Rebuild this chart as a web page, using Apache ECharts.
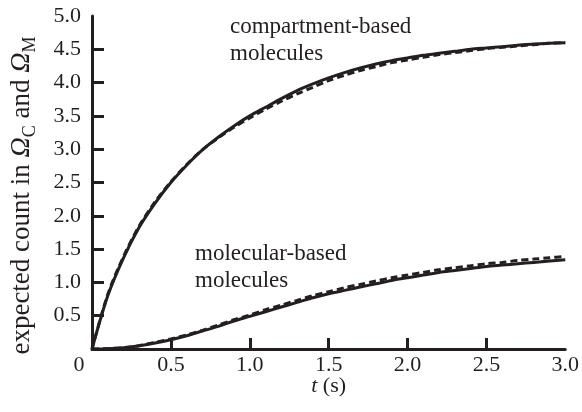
<!DOCTYPE html>
<html>
<head>
<meta charset="utf-8">
<script src="https://cdn.jsdelivr.net/npm/echarts@6/dist/echarts.min.js"></script>
<style>
  html, body { margin: 0; padding: 0; background: #fff; }
  #chart { width: 582px; height: 412px; }
</style>
</head>
<body>
<div id="chart"></div>
<script>
// time grid (s)
var times = [0, 0.1, 0.2, 0.3, 0.4, 0.5, 0.6, 0.7, 0.8, 0.9, 1.0,
  1.1, 1.2, 1.3, 1.4, 1.5, 1.6, 1.7, 1.8, 1.9, 2.0,
  2.1, 2.2, 2.3, 2.4, 2.5, 2.6, 2.7, 2.8, 2.9, 3.0];

// compartment-based molecules, solid and dashed
var compSolid = [0, 0.80, 1.37, 1.83, 2.19, 2.50, 2.76, 2.99, 3.18, 3.35, 3.50,
  3.63, 3.76, 3.88, 3.98, 4.07, 4.15, 4.22, 4.28, 4.33, 4.37,
  4.41, 4.44, 4.47, 4.50, 4.52, 4.54, 4.56, 4.58, 4.59, 4.60];
var compDashed = [0, 0.82, 1.39, 1.85, 2.21, 2.51, 2.77, 2.99, 3.17, 3.33, 3.47,
  3.60, 3.72, 3.83, 3.93, 4.03, 4.11, 4.18, 4.24, 4.30, 4.34,
  4.38, 4.42, 4.45, 4.48, 4.51, 4.53, 4.55, 4.57, 4.59, 4.60];

// molecular-based molecules, solid and dashed
var molSolid = [0, 0.005, 0.02, 0.05, 0.09, 0.14, 0.20, 0.27, 0.34, 0.42, 0.49,
  0.56, 0.63, 0.70, 0.77, 0.83, 0.88, 0.93, 0.98, 1.03, 1.07,
  1.11, 1.15, 1.18, 1.21, 1.24, 1.26, 1.28, 1.30, 1.32, 1.34];
var molDashed = [0, 0.005, 0.02, 0.05, 0.10, 0.15, 0.21, 0.28, 0.36, 0.44, 0.51,
  0.59, 0.66, 0.73, 0.80, 0.86, 0.92, 0.97, 1.02, 1.07, 1.11,
  1.15, 1.19, 1.22, 1.25, 1.28, 1.30, 1.33, 1.35, 1.37, 1.39];

var xTicks = [0.5, 1.0, 1.5, 2.0, 2.5];
var xLabels = [0, 0.5, 1.0, 1.5, 2.0, 2.5, 3.0];
var yTicks = [0.5, 1.0, 1.5, 2.0, 2.5, 3.0, 3.5, 4.0, 4.5];
var yLabels = [0.5, 1.0, 1.5, 2.0, 2.5, 3.0, 3.5, 4.0, 4.5, 5.0];

var ink = '#231f20';
var font = '"Liberation Serif", "Times New Roman", serif';

function pairs(ys) {
  return times.map(function(t, i) { return [t, ys[i]]; });
}

function lineSeries(name, ys, dashed) {
  return {
    name: name,
    type: 'line',
    data: pairs(ys),
    symbol: 'none',
    smooth: 0.3,
    lineStyle: { color: ink, width: 3, type: dashed ? [7, 4] : 'solid' },
    z: dashed ? 2 : 3
  };
}

var chart = echarts.init(document.getElementById('chart'), null, { renderer: 'canvas' });

chart.setOption({
  animation: false,
  backgroundColor: '#fff',
  grid: { left: 88, right: 14, top: 16, bottom: 63 },
  xAxis: {
    type: 'value',
    min: 0, max: 3,
    name: '{i|t} (s)',
    nameLocation: 'middle',
    nameGap: 26,
    nameMoveOverlap: false,
    nameTextStyle: {
      color: ink, fontFamily: font, fontSize: 22,
      rich: { i: { fontStyle: 'italic', fontFamily: font, fontSize: 22, color: ink } }
    },
    axisLine: { lineStyle: { color: ink, width: 3 } },
    axisTick: { inside: true, length: 11, customValues: xTicks, lineStyle: { color: ink, width: 3 } },
    axisLabel: {
      customValues: xLabels,
      margin: 5,
      color: ink, fontFamily: font, fontSize: 22,
      formatter: function(v) { return v === 0 ? '{z|0}' : v.toFixed(1); },
      rich: { z: { padding: [0, 26, 0, 0], color: ink, fontFamily: font, fontSize: 22 } }
    },
    splitLine: { show: false }
  },
  yAxis: {
    type: 'value',
    min: 0, max: 5,
    name: 'expected count in {o|Ω}{s|C} and {o|Ω}{s|M}',
    nameLocation: 'middle',
    nameGap: 53,
    nameMoveOverlap: false,
    nameTextStyle: {
      color: ink, fontFamily: font, fontSize: 27,
      padding: [0, 26, 0, 0],
      rich: {
        o: { fontStyle: 'italic', fontFamily: font, fontSize: 28, color: ink },
        s: { fontFamily: font, fontSize: 18, color: ink, verticalAlign: 'bottom', lineHeight: 34 }
      }
    },
    axisLine: { show: true, lineStyle: { color: ink, width: 3 } },
    axisTick: { show: true, inside: true, length: 12, customValues: yTicks, lineStyle: { color: ink, width: 3 } },
    axisLabel: {
      customValues: yLabels,
      margin: 11,
      color: ink, fontFamily: font, fontSize: 22,
      formatter: function(v) { return v.toFixed(1); }
    },
    splitLine: { show: false }
  },
  series: [
    lineSeries('compartment dashed', compDashed, true),
    lineSeries('compartment', compSolid, false),
    lineSeries('molecular dashed', molDashed, true),
    lineSeries('molecular', molSolid, false)
  ],
  graphic: [
    { type: 'text', x: 230, y: 27, style: { text: 'compartment-based', font: '23px ' + font, fill: ink, textVerticalAlign: 'middle' } },
    { type: 'text', x: 230, y: 54, style: { text: 'molecules', font: '23px ' + font, fill: ink, textVerticalAlign: 'middle' } },
    { type: 'text', x: 195, y: 254, style: { text: 'molecular-based', font: '23px ' + font, fill: ink, textVerticalAlign: 'middle' } },
    { type: 'text', x: 195, y: 281, style: { text: 'molecules', font: '23px ' + font, fill: ink, textVerticalAlign: 'middle' } }
  ]
});

window.addEventListener('resize', function() { chart.resize(); });
</script>
</body>
</html>
